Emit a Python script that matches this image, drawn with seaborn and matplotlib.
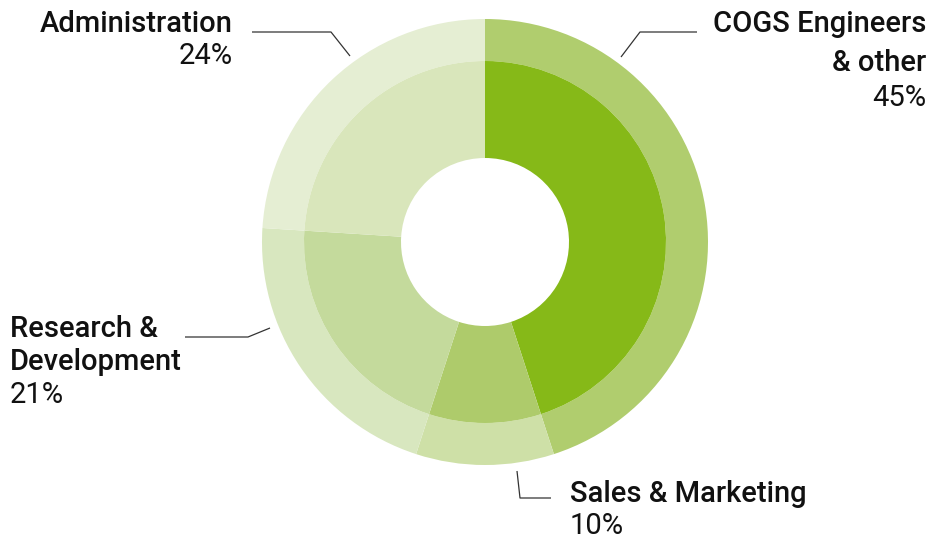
import matplotlib
matplotlib.use("Agg")
import matplotlib.pyplot as plt
import seaborn as sns

# Cost split (clockwise from top)
categories = ["COGS Engineers\n& other", "Sales & Marketing", "Research &\nDevelopment", "Administration"]
shares = [45, 10, 21, 24]
inner_colors = ["#86b918", "#aecb6b", "#c4da9c", "#d9e6bb"]
outer_colors = ["#b0cd6e", "#cee0a7", "#d8e7bf", "#e5eed3"]

sns.set_theme(style="white")
plt.rcParams["font.family"] = ["Roboto", "DejaVu Sans"]

W, H = 934, 541
fig = plt.figure(figsize=(W / 100, H / 100), dpi=100)
ax = fig.add_axes([0, 0, 1, 1])

cx, cy = 485, H - 242
r_out, r_mid, r_hole = 223, 181, 84

ax.pie(shares, colors=outer_colors, radius=r_out, center=(cx, cy),
       startangle=90, counterclock=False,
       wedgeprops=dict(width=r_out - r_mid, linewidth=0))
ax.pie(shares, colors=inner_colors, radius=r_mid, center=(cx, cy),
       startangle=90, counterclock=False,
       wedgeprops=dict(width=r_mid - r_hole, linewidth=0))
ax.set_xlim(0, W)
ax.set_ylim(0, H)
ax.set_aspect("equal")
ax.axis("off")

# leader lines (pixel coords from top)
leaders = {
    "Administration": [(252, 32), (331, 32), (350, 56)],
    "COGS": [(697, 32), (640, 32), (621, 57)],
    "R&D": [(185, 337), (248, 337), (270, 328)],
    "Sales": [(517, 471), (520, 498), (551, 498)],
}
for pts in leaders.values():
    xs = [p[0] for p in pts]
    ys = [H - p[1] for p in pts]
    ax.plot(xs, ys, color="#333333", linewidth=0.9, solid_capstyle="butt")

fs = 21
name_kw = dict(fontsize=fs, fontweight="medium", color="#111111", va="baseline")
pct_kw = dict(fontsize=fs, fontweight="normal", color="#111111", va="baseline")

# Administration
ax.text(233, H - 32, "Administration", ha="right", **name_kw)
ax.text(233, H - 64, f"{shares[3]}%", ha="right", **pct_kw)
# COGS
ax.text(926, H - 32, "COGS Engineers", ha="right", **name_kw)
ax.text(926, H - 71, "& other", ha="right", **name_kw)
ax.text(926, H - 106, f"{shares[0]}%", ha="right", **pct_kw)
# R&D
ax.text(10, H - 337, "Research &", ha="left", **name_kw)
ax.text(10, H - 370, "Development", ha="left", **name_kw)
ax.text(10, H - 403, f"{shares[2]}%", ha="left", **pct_kw)
# Sales
ax.text(570, H - 502, "Sales & Marketing", ha="left", **name_kw)
ax.text(570, H - 534, f"{shares[1]}%", ha="left", **pct_kw)

fig.savefig("out.png", dpi=100, facecolor="white")
